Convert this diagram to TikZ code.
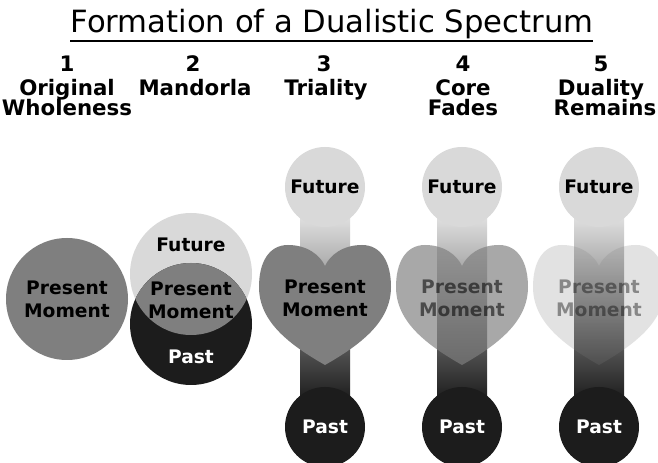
\documentclass[tikz,border=0pt]{standalone}
\usepackage{fontspec}
\setmainfont{DejaVu Sans}
\usetikzlibrary{calc}
\definecolor{fut}{HTML}{D9D9D9}
\definecolor{pres}{HTML}{7F7F7F}
\definecolor{pst}{HTML}{1C1C1C}
\begin{document}
\begin{tikzpicture}[x=0.75pt,y=-0.75pt,
  titlef/.style={font=\fontsize{23}{24}\selectfont, anchor=base, inner sep=0pt},
  hdr/.style={font=\fontsize{16}{17}\selectfont\bfseries, anchor=base, inner sep=0pt},
  lbl/.style={font=\fontsize{14}{17}\selectfont\bfseries, align=center, inner sep=0pt},
  bigc/.style={circle, minimum size=91.5pt, inner sep=0pt},
  smallc/.style={circle, minimum size=60pt, inner sep=0pt},
  bar/.style={top color=white, bottom color=black}]
\useasboundingbox (0,0) rectangle (658,463);
\fill[white] (0,0) rectangle (658,463);
% title
\node[titlef] (title) at (332,33) {Formation of a Dualistic Spectrum};
\coordinate (ulA) at (70,41);
\coordinate (ulB) at (593,41);
\draw[line width=2.2pt] (ulA) -- (ulB);
% headers
\node[hdr] (n1) at (67,72) {1};
\node[hdr] (a1) at (67,96) {Original};
\node[hdr] (b1) at (67,116) {Wholeness};
\node[hdr] (n2) at (193,72) {2};
\node[hdr] (a2) at (195,96) {Mandorla};
\node[hdr] (n3) at (324,72) {3};
\node[hdr] (a3) at (326,96) {Triality};
\node[hdr] (n4) at (463,72) {4};
\node[hdr] (a4) at (463,96) {Core};
\node[hdr] (b4) at (463,116) {Fades};
\node[hdr] (n5) at (601,72) {5};
\node[hdr] (a5) at (601,96) {Duality};
\node[hdr] (b5) at (605,116) {Remains};
% column 1
\node[bigc, fill=pres, lbl] (c1) at (67,299) {Present\\Moment};
% column 2
\node[bigc, fill=fut] (f2) at (191,274) {};
\node[bigc, fill=pst] (p2) at (191,324) {};
\begin{scope}
  \clip (f2.center) circle (45.75pt);
  \fill[pres] (p2.center) circle (45.75pt);
\end{scope}
\node[lbl] (f2t) at (191,245) {Future};
\node[lbl] (m2t) at (191,300) {Present\\Moment};
\node[lbl, text=white] (p2t) at (191,357) {Past};
% columns 3-5
\foreach \cx/\op/\tp/\n in {325/1/1/3, 462/0.68/0.55/4, 599/0.22/0.4/5} {
  \shade[bar] (\cx-25,187) rectangle (\cx+25,427);
  \node[smallc, fill=fut, lbl] (f\n) at (\cx,187) {Future};
  \node[smallc, fill=pst, lbl, text=white] (p\n) at (\cx,427) {Past};
  \fill[pres, opacity=\op] (\cx,365)
     .. controls (\cx-35,345) and (\cx-66,322) .. (\cx-66,287)
     .. controls (\cx-66,262) and (\cx-56,245) .. (\cx-37,245)
     .. controls (\cx-18,245) and (\cx-5,255) .. (\cx,266)
     .. controls (\cx+5,255) and (\cx+18,245) .. (\cx+37,245)
     .. controls (\cx+56,245) and (\cx+66,262) .. (\cx+66,287)
     .. controls (\cx+66,322) and (\cx+35,345) .. (\cx,365) -- cycle;
  \node[lbl, text opacity=\tp] (m\n) at (\cx,298) {Present\\Moment};
}
\end{tikzpicture}
\end{document}
